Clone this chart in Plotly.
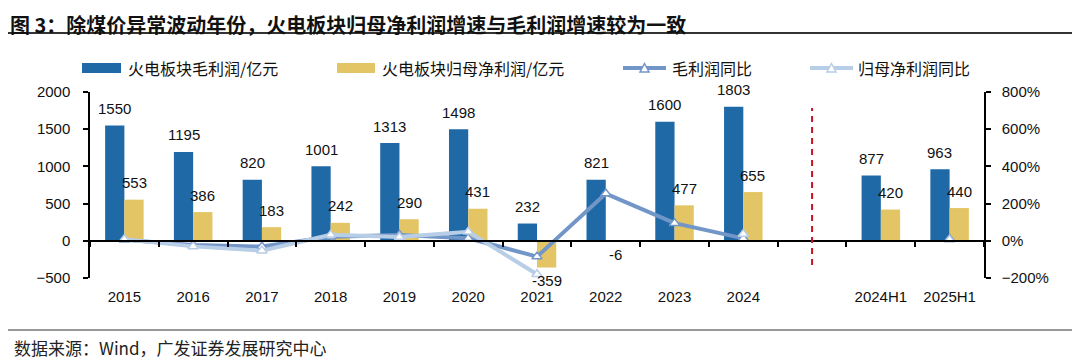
import plotly.graph_objects as go

# ---------------- data ----------------
categories = ["2015", "2016", "2017", "2018", "2019", "2020", "2021", "2022",
              "2023", "2024", " ", "2024H1", "2025H1"]
gross_profit = [1550, 1195, 820, 1001, 1313, 1498, 232, 821, 1600, 1803, None, 877, 963]
net_profit = [553, 386, 183, 242, 290, 431, -359, -6, 477, 655, None, 420, 440]
gross_yoy = [5, -23, -31, 22, 31, 14, -85, 254, 95, 13, None, None, 10]
net_yoy = [8, -30, -53, 32, 20, 49, -180, None, None, 37, None, None, 5]

names = ["火电板块毛利润/亿元", "火电板块归母净利润/亿元", "毛利润同比", "归母净利润同比"]
title_text = "图 3：除煤价异常波动年份，火电板块归母净利润增速与毛利润增速较为一致"
source_text = "数据来源：Wind，广发证券发展研究中心"

# ---------------- style ----------------
C_BLUE = "#1f69a7"
C_YELLOW = "#e4c565"
C_GROSS = "#7296c8"
C_NET = "#b8cde6"
C_RED = "#c8141e"
FONT_NUM = "Liberation Sans, Arial, Noto Sans CJK SC"
FONT_CJK = "Noto Sans CJK SC, Liberation Sans"

# page body has an 8px margin; layout is expressed in window pixels and shifted
OFF = 8
WIN_W, WIN_H = 1080, 360
WIDTH, HEIGHT = WIN_W - OFF, WIN_H - OFF
PLOT_L, PLOT_R, PLOT_T, PLOT_B = 90, 984, 92, 278   # window pixels
L = PLOT_L - OFF
T = PLOT_T - OFF
R = WIN_W - PLOT_R
B = HEIGHT - (PLOT_B - OFF)
PW = PLOT_R - PLOT_L
PH = PLOT_B - PLOT_T


def pxx(p):
    return (p - PLOT_L) / PW


def pxy(p):
    return (PLOT_B - p) / PH


BARGAP = 0.44
cat_px = PW / len(categories)
half_bar_px = cat_px * (1 - BARGAP) / 4

fig = go.Figure()

fig.add_trace(go.Bar(x=categories, y=gross_profit, name=names[0], marker_color=C_BLUE,
                     marker_line_width=0, showlegend=False, xaxis="x", yaxis="y"))
fig.add_trace(go.Bar(x=categories, y=net_profit, name=names[1], marker_color=C_YELLOW,
                     marker_line_width=0, showlegend=False, xaxis="x", yaxis="y"))

marker_common = dict(symbol="triangle-up", size=9, color="white")
fig.add_trace(go.Scatter(x=categories, y=gross_yoy, name=names[2], mode="lines+markers",
                         line=dict(color=C_GROSS, width=4),
                         marker=dict(**marker_common, line=dict(color=C_GROSS, width=1.5)),
                         connectgaps=False, showlegend=False, xaxis="x", yaxis="y2"))
fig.add_trace(go.Scatter(x=categories, y=net_yoy, name=names[3], mode="lines+markers",
                         line=dict(color=C_NET, width=4),
                         marker=dict(**marker_common, line=dict(color=C_NET, width=1.5)),
                         connectgaps=False, showlegend=False, xaxis="x", yaxis="y2"))

# helper trace so the label axis knows its categories
fig.add_trace(go.Scatter(x=categories, y=[0] * len(categories), mode="markers",
                         marker=dict(opacity=0), hoverinfo="skip", showlegend=False,
                         xaxis="x2", yaxis="y"))

annotations = []
# data labels (category axis positions are indices)
for series, shift in ((gross_profit, -half_bar_px), (net_profit, half_bar_px)):
    for i, v in enumerate(series):
        if v is None:
            continue
        annotations.append(dict(x=i, y=v, xref="x", yref="y", text=str(v), showarrow=False,
                                xshift=shift, yshift=17 if v >= 0 else -13,
                                font=dict(family=FONT_NUM, size=15, color="#111111")))

# title
annotations.append(dict(x=pxx(8), y=pxy(OFF), xref="paper", yref="paper", text="<b>" + title_text + "</b>",
                        showarrow=False, xanchor="left", yanchor="top",
                        font=dict(family=FONT_CJK, size=20, color="#111111")))
# source
annotations.append(dict(x=pxx(12), y=pxy(347), xref="paper", yref="paper", text=source_text,
                        showarrow=False, xanchor="left", yanchor="middle",
                        font=dict(family=FONT_CJK, size=17, color="#222222")))

shapes = []
# title underline & footer line
shapes.append(dict(type="line", xref="paper", yref="paper", x0=pxx(OFF), x1=pxx(WIN_W),
                   y0=pxy(33), y1=pxy(33), line=dict(color="#333333", width=2)))
shapes.append(dict(type="line", xref="paper", yref="paper", x0=pxx(OFF), x1=pxx(WIN_W),
                   y0=pxy(330), y1=pxy(330), line=dict(color="#333333", width=1)))
# red separator
sep_idx = categories.index(" ")
shapes.append(dict(type="line", xref="x", yref="paper", x0=sep_idx, x1=sep_idx,
                   y0=pxy(265), y1=pxy(108), line=dict(color=C_RED, width=2, dash="6px,5px")))

# manual legend
LEG_Y = 68
legend_items = [
    ("bar", C_BLUE, 82, 121, 126, names[0]),
    ("bar", C_YELLOW, 337, 375, 380, names[1]),
    ("line", C_GROSS, 623, 666, 670, names[2]),
    ("line", C_NET, 810, 853, 856, names[3]),
]
for kind, col, x0, x1, xt, label in legend_items:
    if kind == "bar":
        shapes.append(dict(type="rect", xref="paper", yref="paper", x0=pxx(x0), x1=pxx(x1),
                           y0=pxy(LEG_Y + 5), y1=pxy(LEG_Y - 5), fillcolor=col, line=dict(width=0)))
    else:
        shapes.append(dict(type="line", xref="paper", yref="paper", x0=pxx(x0), x1=pxx(x1),
                           y0=pxy(LEG_Y), y1=pxy(LEG_Y), line=dict(color=col, width=4)))
        cx = (x0 + x1) / 2
        path = "M {} {} L {} {} L {} {} Z".format(pxx(cx - 4.5), pxy(LEG_Y + 4), pxx(cx + 4.5), pxy(LEG_Y + 4),
                                                 pxx(cx), pxy(LEG_Y - 4.5))
        shapes.append(dict(type="path", xref="paper", yref="paper", path=path, fillcolor="white",
                           line=dict(color=col, width=1.5)))
    annotations.append(dict(x=pxx(xt), y=pxy(LEG_Y), xref="paper", yref="paper", text=label,
                            showarrow=False, xanchor="left", yanchor="middle",
                            font=dict(family=FONT_CJK, size=16, color="#111111")))

fig.update_layout(
    width=WIDTH, height=HEIGHT,
    margin=dict(l=L, r=R, t=T, b=B),
    paper_bgcolor="white", plot_bgcolor="white",
    barmode="group", bargap=BARGAP, bargroupgap=0,
    font=dict(family=FONT_NUM, size=15, color="#111111"),
    xaxis=dict(type="category", categoryorder="array", categoryarray=categories,
               range=[-0.5, len(categories) - 0.5], anchor="free", position=0.2,
               showline=True, linecolor="#000000", linewidth=1.5,
               ticks="outside", tickson="boundaries", ticklen=5, tickcolor="#000000", tickwidth=1.5,
               showticklabels=False, showgrid=False, zeroline=False),
    xaxis2=dict(type="category", categoryorder="array", categoryarray=categories,
                range=[-0.5, len(categories) - 0.5], overlaying="x", anchor="y", side="bottom",
                showline=False, ticks="", showticklabels=True, ticklabelstandoff=8,
                tickfont=dict(family=FONT_NUM, size=15, color="#111111"),
                showgrid=False, zeroline=False),
    yaxis=dict(range=[-500, 2000], dtick=500, showline=True, linecolor="#000000", linewidth=1.5,
               ticks="outside", ticklen=5, tickcolor="#000000", tickwidth=1.5,
               ticklabelstandoff=10, showgrid=False, zeroline=False,
               tickfont=dict(family=FONT_NUM, size=15, color="#111111")),
    yaxis2=dict(range=[-200, 800], dtick=200, ticksuffix="%", overlaying="y", side="right",
                showline=True, linecolor="#000000", linewidth=1.5,
                ticks="outside", ticklen=5, tickcolor="#000000", tickwidth=1.5,
                ticklabelstandoff=8, showgrid=False, zeroline=False,
                tickfont=dict(family=FONT_NUM, size=15, color="#111111")),
    annotations=annotations,
    shapes=shapes,
    showlegend=False,
)

fig.write_html("out.html")
